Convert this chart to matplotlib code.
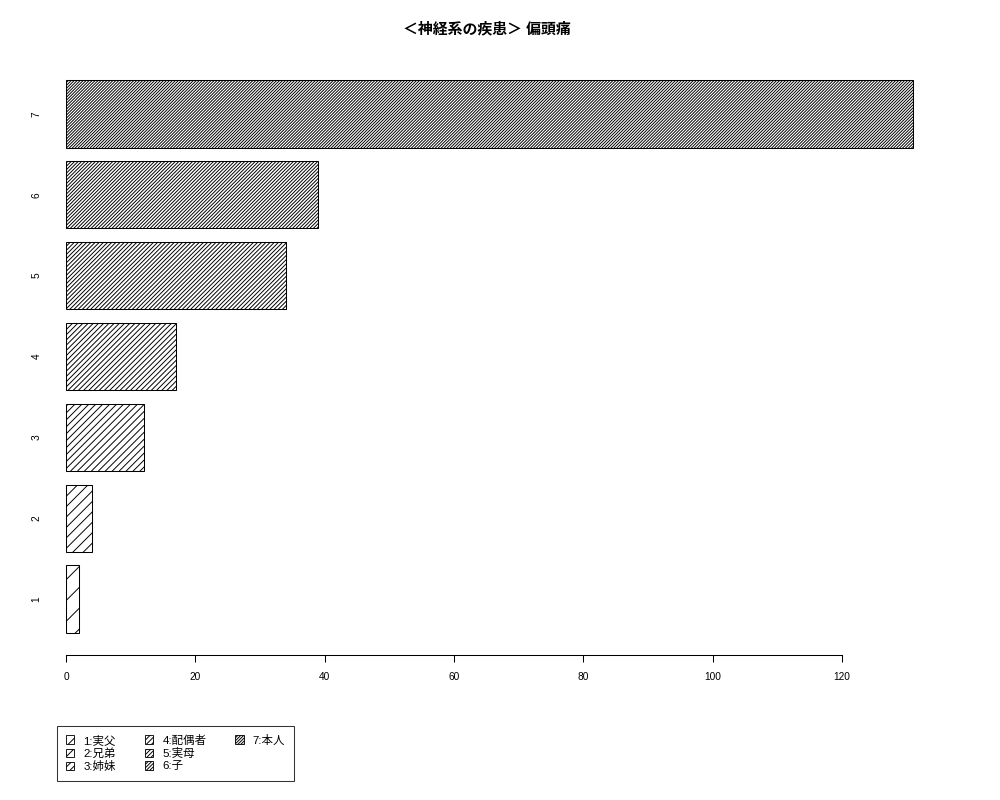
import matplotlib
matplotlib.use('Agg')
import matplotlib.pyplot as plt
from matplotlib.patches import Patch

plt.rcParams['font.family'] = ['Liberation Sans', 'Noto Sans CJK JP']
plt.rcParams['hatch.linewidth'] = 0.55

# data
categories = ['1', '2', '3', '4', '5', '6', '7']
values = [2, 4, 12, 17, 34, 39, 131]
legend_labels = ['1:実父', '2:兄弟', '3:姉妹', '4:配偶者', '5:実母', '6:子', '7:本人']
hatches = ['/' * (2 * (i + 1)) for i in range(len(values))]  # denser per bar

W, H, DPI = 1000, 800, 125
fig = plt.figure(figsize=(W / DPI, H / DPI), dpi=DPI)
# axes placed in pixel terms (left 66, right 947, top 58, bottom 655)
ax = fig.add_axes([66 / W, 1 - 655 / H, (947 - 66) / W, (655 - 58) / H])

pos = [0.7 + 1.2 * i for i in range(len(values))]
ax.barh(pos, values, height=1.0, left=0, color='white', edgecolor='black',
        linewidth=0.6, hatch=hatches)

ax.set_xlim(0, 881 / 6.467)
ax.set_ylim(-0.128, 8.728)

for s in ['top', 'right', 'left']:
    ax.spines[s].set_visible(False)
ax.spines['bottom'].set_bounds(0, 120)
ax.spines['bottom'].set_linewidth(0.6)
ax.set_xticks(range(0, 121, 20))
ax.tick_params(axis='x', length=4, width=0.6, labelsize=5.8, pad=6)

ax.set_yticks(pos)
ax.set_yticklabels(categories, rotation=90, va='center')
ax.tick_params(axis='y', length=0, labelsize=5.8, pad=14)

fig.text(487 / W, 1 - 29 / H, '＜神経系の疾患＞ 偏頭痛', ha='center', va='center',
         fontsize=8.6, fontweight='bold')

# R fills the legend column by column: 3 rows, last column holds only "7"
handles = [Patch(facecolor='white', edgecolor='black', linewidth=0.5, hatch=h)
           for h in hatches]
labels = list(legend_labels)
blank = Patch(facecolor='none', edgecolor='none')
handles += [blank, blank]
labels += ['', '']
leg = fig.legend(handles, labels, ncol=3, loc='upper left',
                 bbox_to_anchor=(57 / W, 1 - 726 / H), borderaxespad=0,
                 fontsize=6.6, fancybox=False, handlelength=0.75, handleheight=0.75,
                 handletextpad=0.8, columnspacing=2.5, labelspacing=0.2,
                 borderpad=0.75)
leg.get_frame().set_edgecolor('black')
leg.get_frame().set_linewidth(0.6)

fig.savefig('out.png', dpi=DPI)
